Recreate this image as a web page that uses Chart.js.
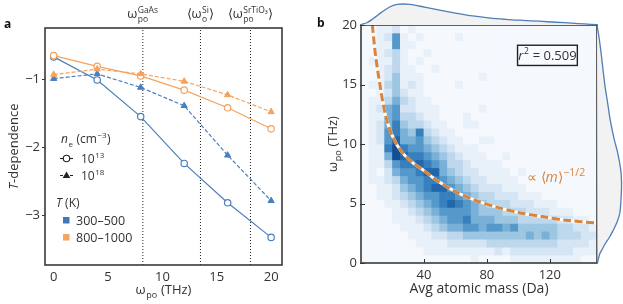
<!DOCTYPE html>
<html>
<head>
<meta charset="utf-8">
<script src="https://cdn.jsdelivr.net/npm/chart.js@4.4.0/dist/chart.umd.min.js"></script>
<style>
  html, body { margin: 0; padding: 0; background: #fff; }
  #wrap { position: relative; width: 623px; height: 304px; overflow: hidden; }
  canvas { position: absolute; }
</style>
</head>
<body>
<div id="wrap">
  <canvas id="chartA" width="310" height="304" style="left:0;top:0"></canvas>
  <canvas id="chartB" width="313" height="304" style="left:310px;top:0"></canvas>
  <canvas id="chartTop" width="236" height="25" style="left:361px;top:0"></canvas>
  <canvas id="chartRight" width="26" height="238" style="left:597px;top:25px"></canvas>
</div>
<script>
// ---- panel a data ----
const omegaPo = [0, 4, 8, 12, 16, 20];
const low13 = [-0.67, -1.01, -1.55, -2.24, -2.82, -3.33];   // 300-500 K, 1e13
const low18 = [-0.99, -0.92, -1.12, -1.39, -2.12, -2.79];   // 300-500 K, 1e18
const high13 = [-0.65, -0.81, -0.95, -1.16, -1.42, -1.73];  // 800-1000 K, 1e13
const high18 = [-0.93, -0.85, -0.92, -1.03, -1.23, -1.48];  // 800-1000 K, 1e18
const refOmega = [8.2, 13.5, 18.1];
const xTicksA = [0, 5, 10, 15, 20];
const yTicksA = [-1, -2, -3];

// ---- panel b data ----
const massCenters = [2.5, 7.5, 12.5, 17.5, 22.5, 27.5, 32.5, 37.5, 42.5, 47.5,
  52.5, 57.5, 62.5, 67.5, 72.5, 77.5, 82.5, 87.5, 92.5, 97.5,
  102.5, 107.5, 112.5, 117.5, 122.5, 127.5, 132.5, 137.5, 142.5, 147.5];
const omegaEdges = [0, 0.67, 1.33, 2, 2.67, 3.33, 4, 4.67, 5.33, 6, 6.67, 7.33, 8, 8.67, 9.33,
  10, 10.67, 11.33, 12, 12.67, 13.33, 14, 14.67, 15.33, 16, 16.67, 17.33, 18, 18.67, 19.33, 20];
// counts level 0-9, top row (omega 19.3-20) first, columns = massCenters
const heatRows = [
  "00112 01000 00000 00000 00000 00000",
  "00126 10100 00100 00000 00000 00000",
  "00116 11000 00000 00000 00000 00000",
  "00123 10010 00000 00000 00000 00000",
  "01113 10100 00000 00000 00000 00000",
  "00123 11001 00000 00000 00000 00000",
  "00124 11100 00000 10000 00000 00000",
  "01134 12100 00100 00000 00000 00000",
  "00124 21100 00000 00000 00000 00000",
  "01135 32110 00000 00000 00000 00000",
  "01256 22111 00000 10000 00000 00000",
  "01156 33211 00010 00000 00000 00000",
  "01257 43321 10011 00000 00000 00000",
  "01267 54732 11000 00000 00000 00000",
  "01268 55643 21100 11000 00000 00000",
  "01179 76654 32111 00000 00000 00000",
  "01159 87765 43211 10010 00000 00000",
  "01136 77876 53321 11100 00000 00000",
  "01025 66788 54322 11110 10000 00000",
  "01123 56677 65432 21111 00000 00000",
  "00112 45678 86543 22211 10000 00000",
  "00112 34566 77654 33222 11100 00000",
  "00011 23456 78765 43332 22111 00000",
  "00001 12345 66665 44433 32221 11000",
  "00001 11234 56675 55444 33333 22110",
  "00000 11123 45566 56656 44444 33221",
  "00000 01112 23344 44444 45454 33322",
  "00000 00111 12222 23333 33333 22221",
  "00000 00011 11111 11212 22222 22111",
  "00000 00000 00001 00001 11111 11100"
];
const fitMass = [7.2, 9.3, 12.5, 15.6, 19.9, 25.2, 32.6, 40, 48, 60, 72, 86, 100, 115, 130, 150];
const fitOmega = [20, 17.4, 14.6, 12.4, 10.7, 9.45, 8.46, 7.76, 6.95, 6.0, 5.3, 4.7, 4.25, 3.9, 3.6, 3.35];
const yTicksB = [0, 5, 10, 15, 20];
const xTicksB = [40, 80, 120];

// marginal densities (relative)
const kdeMass = [0, 4, 8, 13, 18.5, 23, 27, 31, 35, 42, 50, 60, 71, 82, 92, 103, 113, 124, 134, 142, 150];
const kdeMassDens = [0.02, 0.12, 0.32, 0.6, 0.87, 0.98, 1.0, 0.98, 0.93, 0.83, 0.71, 0.57, 0.43, 0.33, 0.27, 0.22, 0.18, 0.13, 0.09, 0.05, 0.02];
const kdeOmega = [20, 19, 17.6, 16, 14.8, 13.5, 12, 10.5, 9.2, 7.8, 6.8, 5.8, 4.2, 3.4, 2.7, 2.1, 1.6, 1.1, 0.8, 0.3, 0];
const kdeOmegaDens = [0.0, 0.08, 0.17, 0.26, 0.33, 0.43, 0.54, 0.69, 0.85, 0.97, 1.0, 0.99, 0.93, 0.81, 0.65, 0.49, 0.33, 0.2, 0.12, 0.05, 0.02];

// ---- styles ----
const FONT = 'Open Sans';
const TXT = '#333';
const BLUE = '#4a7fbe';
const ORANGE = '#f5a25d';
const FIT = '#d9843a';
const HEAT = ['#f5f9fe', '#e8f1fa', '#d5e5f4', '#bdd7ec', '#9dc6e2', '#78b0d7', '#5598ca', '#3780bd', '#2068ab', '#105096'];

Chart.defaults.font.family = FONT;
Chart.defaults.color = TXT;

function f(size, style) { return (style || '') + ' ' + size + 'px "' + FONT + '"'; }

// draws text with sub/superscripts: items are strings, {t, it} or {sup, sub}
function rich(ctx, items, x, y, o) {
  const B = o.size, S = o.small || Math.round(B * 0.68);
  const parts = items.map(s => {
    if (typeof s === 'string') s = { t: s };
    let w;
    if (s.t !== undefined) {
      ctx.font = f(B, s.it ? 'italic' : '');
      w = ctx.measureText(s.t).width;
    } else {
      ctx.font = f(S);
      w = Math.max(s.sup ? ctx.measureText(s.sup).width : 0, s.sub ? ctx.measureText(s.sub).width : 0) + 1;
    }
    return { s, w };
  });
  const total = parts.reduce((a, p) => a + p.w, 0);
  ctx.save();
  ctx.translate(x, y);
  if (o.rot) ctx.rotate(o.rot);
  ctx.fillStyle = o.color || TXT;
  ctx.textAlign = 'left';
  ctx.textBaseline = 'alphabetic';
  let cx = o.align === 'center' ? -total / 2 : (o.align === 'right' ? -total : 0);
  parts.forEach(({ s, w }) => {
    if (s.t !== undefined) {
      ctx.font = f(B, s.it ? 'italic' : '');
      ctx.fillText(s.t, cx, 0);
    } else {
      ctx.font = f(S);
      if (s.sup) ctx.fillText(s.sup, cx + 0.5, -B * 0.42);
      if (s.sub) ctx.fillText(s.sub, cx + 0.5, B * 0.3);
    }
    cx += w;
  });
  ctx.restore();
}

function pts(xs, ys) { return xs.map((x, i) => ({ x: x, y: ys[i] })); }

// ---------------- panel a ----------------
const aMin = -3.737, aMax = -0.244;

let seriesA = [
  { data: pts(omegaPo, high18), color: ORANGE, open: false },
  { data: pts(omegaPo, high13), color: ORANGE, open: true },
  { data: pts(omegaPo, low18), color: BLUE, open: false },
  { data: pts(omegaPo, low13), color: BLUE, open: true },
];

let dataA = seriesA.map((s, i) => ({
  data: s.data,
  showLine: true,
  borderColor: s.color,
  borderWidth: 1.2,
  borderDash: s.open ? [] : [4, 2],
  pointStyle: s.open ? 'circle' : 'triangle',
  pointRadius: s.open ? 3.2 : 3.6,
  pointBorderWidth: s.open ? 1.2 : 1,
  pointBackgroundColor: s.open ? '#fff' : s.color,
  pointBorderColor: s.color,
  order: i + 1,
}));

refOmega.forEach(x => {
  dataA.push({
    data: [{ x: x, y: aMin }, { x: x, y: aMax }],
    showLine: true,
    borderColor: '#222',
    borderWidth: 1,
    borderDash: [1, 2],
    pointRadius: 0,
    order: 10,
  });
});

const refLabels = [
  ['ω', { sup: 'GaAs', sub: 'po' }],
  ['⟨ω', { sup: 'Si', sub: 'o' }, '⟩'],
  ['⟨ω', { sup: 'SrTiO₃', sub: 'po' }, '⟩'],
];

const decorA = {
  id: 'decorA',
  afterDraw(chart) {
    const ctx = chart.ctx, a = chart.chartArea;
    const sx = chart.scales.x, sy = chart.scales.y;
    ctx.save();
    // y ticks outward
    ctx.strokeStyle = '#333';
    ctx.lineWidth = 1;
    yTicksA.forEach(v => {
      const py = Math.round(sy.getPixelForValue(v)) + 0.5;
      ctx.beginPath(); ctx.moveTo(a.left - 3, py); ctx.lineTo(a.left, py); ctx.stroke();
    });
    // frame
    ctx.lineWidth = 1.6;
    ctx.strokeStyle = '#3a3a3a';
    ctx.strokeRect(a.left, a.top, a.right - a.left, a.bottom - a.top);

    // panel letter
    ctx.fillStyle = '#111';
    ctx.font = f(12, 'bold');
    ctx.fillText('a', 4, 28);

    // labels on top of reference lines
    refOmega.forEach((x, i) => {
      rich(ctx, refLabels[i], sx.getPixelForValue(x), 18, { size: 13, small: 8.5, align: 'center' });
    });

    // axis titles
    rich(ctx, ['ω', { sub: 'po' }, ' (THz)'], (a.left + a.right) / 2, 294, { size: 13, small: 9, align: 'center' });
    rich(ctx, [{ t: 'T', it: true }, '-dependence'], 18, (a.top + a.bottom) / 2, { size: 13, align: 'center', rot: -Math.PI / 2 });

    // legend
    rich(ctx, [{ t: 'n', it: true }, { sub: 'e' }, ' (cm', { sup: '−3' }, ')'], 61, 143, { size: 12, small: 8 });
    ctx.strokeStyle = '#222';
    ctx.lineWidth = 1.1;
    ctx.beginPath(); ctx.moveTo(60, 158.5); ctx.lineTo(73, 158.5); ctx.stroke();
    ctx.beginPath(); ctx.arc(66.5, 158.5, 3.2, 0, Math.PI * 2);
    ctx.fillStyle = '#fff'; ctx.fill(); ctx.stroke();
    rich(ctx, ['10', { sup: '13' }], 81, 163, { size: 12, small: 8 });
    ctx.setLineDash([3, 2]);
    ctx.beginPath(); ctx.moveTo(60, 175.5); ctx.lineTo(73, 175.5); ctx.stroke();
    ctx.setLineDash([]);
    ctx.fillStyle = '#222';
    ctx.beginPath(); ctx.moveTo(66.5, 171.5); ctx.lineTo(70.3, 178); ctx.lineTo(62.7, 178); ctx.closePath(); ctx.fill();
    rich(ctx, ['10', { sup: '18' }], 81, 180, { size: 12, small: 8 });

    rich(ctx, [{ t: 'T', it: true }, ' (K)'], 56, 207, { size: 12 });
    ctx.fillStyle = '#3f78b5';
    ctx.fillRect(63, 217, 6.5, 6.5);
    ctx.fillStyle = '#f6a561';
    ctx.fillRect(63, 234, 6.5, 6.5);
    rich(ctx, ['300–500'], 76, 225, { size: 12.5 });
    rich(ctx, ['800–1000'], 76, 242, { size: 12.5 });
    ctx.restore();
  }
};

let chartA = new Chart(document.getElementById('chartA'), {
  type: 'scatter',
  data: { datasets: dataA },
  options: {
    responsive: false,
    animation: false,
    layout: { padding: { top: 28, right: 28, left: 0, bottom: 0 } },
    plugins: { legend: { display: false }, tooltip: { enabled: false } },
    scales: {
      x: {
        type: 'linear', min: -0.8, max: 21,
        grid: { display: false, drawTicks: false },
        border: { display: false },
        ticks: { font: { size: 13 }, color: TXT, padding: 4, maxRotation: 0 },
        afterBuildTicks: s => { s.ticks = xTicksA.map(v => ({ value: v })); },
        afterFit: s => { s.height = 39; },
      },
      y: {
        type: 'linear', min: aMin, max: aMax,
        grid: { display: false, drawTicks: false },
        border: { display: false },
        ticks: { font: { size: 13 }, color: TXT, padding: 5, callback: v => '−' + Math.abs(v) },
        afterBuildTicks: s => { s.ticks = yTicksA.map(v => ({ value: v })); },
        afterFit: s => { s.width = 45; },
      },
    },
  },
  plugins: [decorA],
});

// ---------------- panel b ----------------
let heatSets = [];
heatRows.forEach((row, r) => {
  const levels = row.replace(/ /g, '').split('').map(Number);
  const j = heatRows.length - 1 - r;  // bin index from bottom
  heatSets.push({
    type: 'bar',
    data: massCenters.map(m => ({ x: m, y: [omegaEdges[j], omegaEdges[j + 1]] })),
    backgroundColor: levels.map(l => HEAT[l]),
    borderWidth: 0,
    barPercentage: 1,
    categoryPercentage: 1,
    stack: 'heat',
    order: 5,
  });
});

let fitLine = pts(fitMass, fitOmega);
let dataB = heatSets.concat([
  { type: 'line', data: fitLine, borderColor: '#fff', borderWidth: 3, pointRadius: 0, tension: 0.3, order: 2 },
  { type: 'line', data: fitLine, borderColor: FIT, borderWidth: 3, borderDash: [8, 3.5], pointRadius: 0, tension: 0.3, order: 1 },
]);

const decorB = {
  id: 'decorB',
  afterDraw(chart) {
    const ctx = chart.ctx, a = chart.chartArea;
    const sx = chart.scales.x, sy = chart.scales.y;
    ctx.save();
    ctx.strokeStyle = '#333';
    ctx.lineWidth = 1;
    yTicksB.forEach(v => {
      const py = Math.round(sy.getPixelForValue(v)) + 0.5;
      ctx.beginPath(); ctx.moveTo(a.left - 1, py); ctx.lineTo(a.left + 4, py); ctx.stroke();
    });
    xTicksB.forEach(v => {
      const px = Math.round(sx.getPixelForValue(v)) + 0.5;
      ctx.beginPath(); ctx.moveTo(px, a.bottom); ctx.lineTo(px, a.bottom - 4); ctx.stroke();
    });
    ctx.lineWidth = 1.6;
    ctx.strokeStyle = '#3a3a3a';
    ctx.strokeRect(a.left, a.top, a.right - a.left, a.bottom - a.top);

    ctx.fillStyle = '#111';
    ctx.font = f(12, 'bold');
    ctx.fillText('b', 7, 27);

    // r^2 box
    const bx = sx.getPixelForValue(99.5), by = sy.getPixelForValue(18.3);
    const bw = sx.getPixelForValue(137.5) - bx, bh = sy.getPixelForValue(16.6) - by;
    ctx.fillStyle = '#f8fbff';
    ctx.fillRect(bx, by, bw, bh);
    ctx.lineWidth = 1.4;
    ctx.strokeStyle = '#222';
    ctx.strokeRect(bx, by, bw, bh);
    rich(ctx, [{ t: 'r', it: true }, { sup: '2' }, ' = 0.509'], bx + bw / 2, by + bh / 2 + 4.5, { size: 13, small: 8.5, align: 'center' });

    rich(ctx, ['∝ ⟨', { t: 'm', it: true }, '⟩', { sup: '−1/2' }], sx.getPixelForValue(105.5), sy.getPixelForValue(6.8), { size: 14, small: 10.5, color: FIT });

    rich(ctx, ['ω', { sub: 'po' }, ' (THz)'], 27, (a.top + a.bottom) / 2, { size: 13, small: 9, align: 'center', rot: -Math.PI / 2 });
    rich(ctx, ['Avg atomic mass (Da)'], (a.left + a.right) / 2, 293, { size: 14, align: 'center' });
    ctx.restore();
  }
};

let chartB = new Chart(document.getElementById('chartB'), {
  type: 'bar',
  data: { datasets: dataB },
  options: {
    responsive: false,
    animation: false,
    layout: { padding: { top: 25, right: 26, left: 0, bottom: 0 } },
    plugins: { legend: { display: false }, tooltip: { enabled: false } },
    scales: {
      x: {
        type: 'linear', min: 0, max: 150, offset: false,
        grid: { display: false, drawTicks: false, offset: false },
        border: { display: false },
        ticks: { font: { size: 13 }, color: TXT, padding: 4, maxRotation: 0 },
        afterBuildTicks: s => { s.ticks = xTicksB.map(v => ({ value: v })); },
        afterFit: s => { s.height = 41; },
      },
      y: {
        type: 'linear', min: 0, max: 20, stacked: false,
        grid: { display: false, drawTicks: false },
        border: { display: false },
        ticks: { font: { size: 13 }, color: TXT, padding: 4 },
        afterBuildTicks: s => { s.ticks = yTicksB.map(v => ({ value: v })); },
        afterFit: s => { s.width = 51; },
      },
    },
  },
  plugins: [decorB],
});

// ---------------- marginal densities ----------------
const noAxis = { display: false };

let chartTop = new Chart(document.getElementById('chartTop'), {
  type: 'scatter',
  data: {
    datasets: [{
      data: pts(kdeMass, kdeMassDens),
      showLine: true, fill: 'origin', tension: 0.35,
      backgroundColor: '#f2f2f2', borderColor: '#4f7fb8', borderWidth: 1.3,
      pointRadius: 0, clip: false,
    }]
  },
  options: {
    responsive: false, animation: false,
    layout: { padding: 0 },
    plugins: { legend: { display: false }, tooltip: { enabled: false } },
    scales: {
      x: Object.assign({ type: 'linear', min: 0, max: 150 }, noAxis),
      y: Object.assign({ type: 'linear', min: 0, max: 1.19 }, noAxis),
    },
  },
});

let chartRight = new Chart(document.getElementById('chartRight'), {
  type: 'scatter',
  data: {
    datasets: [{
      data: pts(kdeOmegaDens, kdeOmega),
      showLine: true, fill: 'shape', tension: 0.35,
      backgroundColor: '#f2f2f2', borderColor: '#4f7fb8', borderWidth: 1.3,
      pointRadius: 0, clip: false,
    }]
  },
  options: {
    responsive: false, animation: false,
    layout: { padding: 0 },
    plugins: { legend: { display: false }, tooltip: { enabled: false } },
    scales: {
      x: Object.assign({ type: 'linear', min: 0, max: 1.06 }, noAxis),
      y: Object.assign({ type: 'linear', min: 0, max: 20 }, noAxis),
    },
  },
});
</script>
</body>
</html>
